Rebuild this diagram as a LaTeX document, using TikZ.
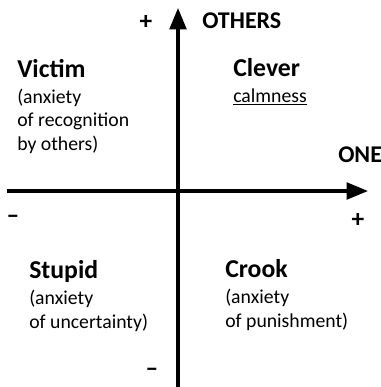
\documentclass[tikz,border=0pt]{standalone}
\usepackage{fontspec}
\setmainfont{Carlito}
\usetikzlibrary{arrows.meta, positioning}
\tikzset{
    axis/.style={line width=2.4pt, -{Triangle[length=16pt, width=12.5pt]}},
    quadtitle/.style={anchor=base west, inner sep=0pt, font=\fontsize{19.3}{22}\selectfont\bfseries},
    quadtext/.style={anchor=base west, inner sep=0pt, align=left, font=\fontsize{14.8}{17.6}\selectfont},
    axislabel/.style={anchor=base west, inner sep=0pt, font=\fontsize{18}{20}\selectfont\bfseries},
    sign/.style={inner sep=0pt, font=\fontsize{19}{21}\selectfont\bfseries}
}
\begin{document}
\begin{tikzpicture}[x=0.75pt, y=-0.75pt]
    \useasboundingbox (0,0) rectangle (380,387);

    % Axes
    \coordinate (xl) at (7,191);
    \coordinate (xr) at (368,191);
    \coordinate (yb) at (178,388);
    \coordinate (yt) at (178,8);
    \draw[axis] (xl) -- (xr);
    \draw[axis] (yb) -- (yt);

    % Axis labels
    \node[axislabel] (others) at (202,28) {OTHERS};
    \node[axislabel] (one) at (338,162) {ONE};
    \node[sign] (yplus) at (146,22) {+};
    \node[sign] (yminus) at (152,372) {--};
    \node[sign] (xminus) at (13,219) {--};
    \node[sign] (xplus) at (358,220) {+};

    % Upper left
    \node[quadtitle] (victim) at (17,77) {Victim};
    \node[quadtext] (victimtxt) at (17,150) {(anxiety\\of recognition\\by others)};

    % Upper right
    \node[quadtitle] (clever) at (233,76) {Clever};
    \node[quadtext] (calm) at (233,102) {\underline{calmness}};

    % Lower left
    \node[quadtitle] (stupid) at (29,278) {Stupid};
    \node[quadtext] (stupidtxt) at (29,328) {(anxiety\\of uncertainty)};

    % Lower right
    \node[quadtitle] (crook) at (225,277) {Crook};
    \node[quadtext] (crooktxt) at (225,327) {(anxiety\\of punishment)};
\end{tikzpicture}
\end{document}
